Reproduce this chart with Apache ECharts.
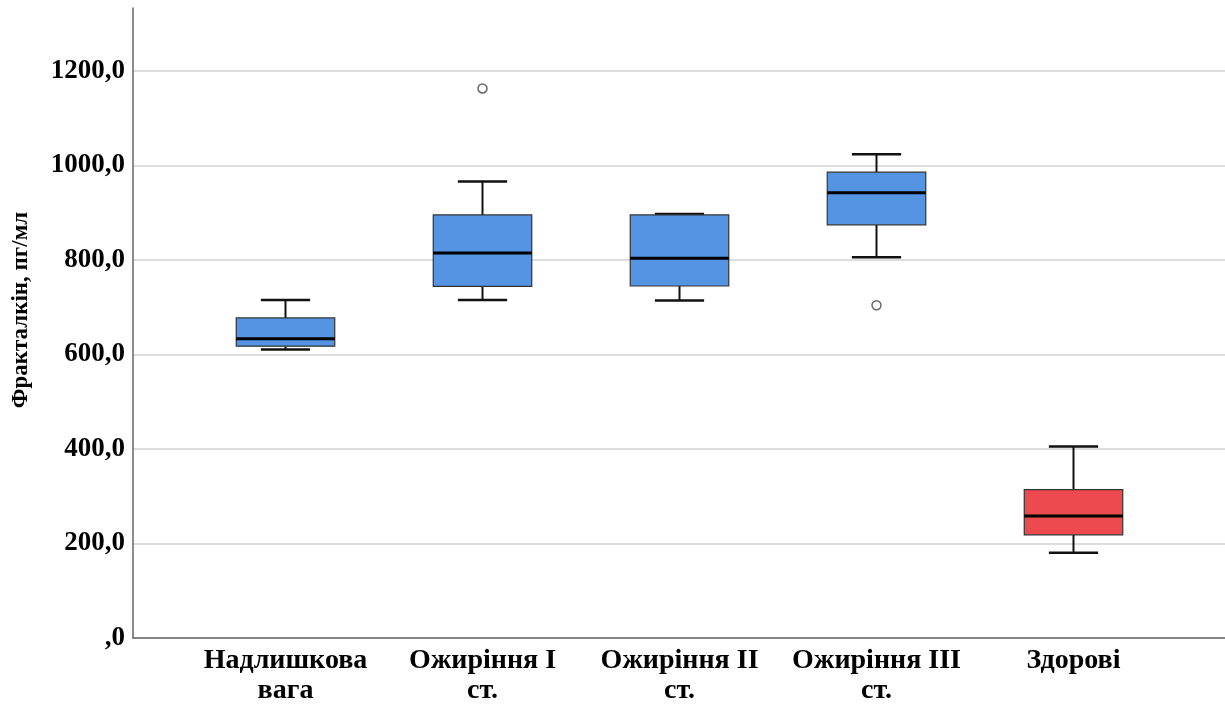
<!DOCTYPE html>
<html>
<head>
<meta charset="utf-8">
<script src="https://cdn.jsdelivr.net/npm/echarts@6/dist/echarts.min.js"></script>
<style>
  html, body { margin: 0; padding: 0; background: #fff; }
  #chart { width: 1225px; height: 706px; }
</style>
</head>
<body>
<div id="chart"></div>
<script>
// Groups and five-number summaries (pg/ml)
const categories = ['Надлишкова\nвага', 'Ожиріння I\nст.', 'Ожиріння II\nст.', 'Ожиріння III\nст.', 'Здорові'];
const lowWhisker  = [607, 712, 711, 803, 175];
const q1          = [614, 741, 742, 872, 213];
const median      = [630, 812, 801, 940, 253];
const q3          = [674, 893, 893, 984, 309];
const highWhisker = [712, 964, 895, 1022, 401];
// Outliers: [group index, value]
const outliers = [[1, 1162], [3, 701]];
const boxColors = ['#5494E3', '#5494E3', '#5494E3', '#5494E3', '#EC4A4F'];
const yTicks = [0, 200, 400, 600, 800, 1000, 1200];

const Y_MAX = 1333;
const serif = '"Liberation Serif", "DejaVu Serif", serif';

const boxData = categories.map((c, i) => [i, lowWhisker[i], q1[i], median[i], q3[i], highWhisker[i]]);

function renderBox(params, api) {
  const idx = api.value(0);
  const band = api.size([1, 0])[0];
  const half = band * 0.25;
  const capHalf = band * 0.125;
  const pLow = api.coord([idx, api.value(1)]);
  const pQ1 = api.coord([idx, api.value(2)]);
  const pMed = api.coord([idx, api.value(3)]);
  const pQ3 = api.coord([idx, api.value(4)]);
  const pHigh = api.coord([idx, api.value(5)]);
  const x = pMed[0];
  const lineStyle = { stroke: '#111', lineWidth: 2 };
  return {
    type: 'group',
    children: [
      { type: 'line', shape: { x1: x, y1: pQ3[1], x2: x, y2: pHigh[1] }, style: lineStyle },
      { type: 'line', shape: { x1: x, y1: pLow[1], x2: x, y2: pQ1[1] }, style: lineStyle },
      { type: 'line', shape: { x1: x - capHalf, y1: pHigh[1], x2: x + capHalf, y2: pHigh[1] }, style: { stroke: '#111', lineWidth: 2.5 } },
      { type: 'line', shape: { x1: x - capHalf, y1: pLow[1], x2: x + capHalf, y2: pLow[1] }, style: { stroke: '#111', lineWidth: 2.5 } },
      { type: 'rect', shape: { x: x - half, y: pQ3[1], width: half * 2, height: pQ1[1] - pQ3[1] },
        style: { fill: boxColors[idx], stroke: '#333', lineWidth: 1.2 } },
      { type: 'line', shape: { x1: x - half, y1: pMed[1], x2: x + half, y2: pMed[1] }, style: { stroke: '#000', lineWidth: 3 } }
    ]
  };
}

const chart = echarts.init(document.getElementById('chart'), null, { renderer: 'canvas' });

// last split line sits on the top edge of the plot and is left invisible
const gridColors = yTicks.map(() => '#d2d2d2').concat(['rgba(0,0,0,0)']);

chart.setOption({
  animation: false,
  backgroundColor: '#fff',
  grid: [
    { left: 133, right: 0, top: 8, bottom: 68 },
    { left: 187, right: 53, top: 8, bottom: 68 }
  ],
  xAxis: [
    {
      gridIndex: 0, type: 'value', min: 0, max: 1,
      axisLine: { show: true, lineStyle: { color: '#666', width: 1.5 } },
      axisTick: { show: false }, axisLabel: { show: false }, splitLine: { show: false }
    },
    {
      gridIndex: 1, type: 'category', data: categories,
      axisLine: { show: false }, axisTick: { show: false },
      axisLabel: {
        margin: 11, color: '#000', fontFamily: serif, fontWeight: 'bold', fontSize: 28, lineHeight: 30,
        interval: 0
      }
    }
  ],
  yAxis: [
    {
      gridIndex: 0, type: 'value', min: 0, max: Y_MAX, interval: 200,
      name: 'Фракталкін, пг/мл', nameLocation: 'middle', nameRotate: 90, nameGap: 100,
      nameTextStyle: { color: '#000', fontFamily: serif, fontWeight: 'bold', fontSize: 23, padding: [0, 0, 0, 26] },
      axisLine: { show: true, lineStyle: { color: '#666', width: 1.5 } },
      axisTick: { show: false },
      axisLabel: {
        margin: 8, color: '#000', fontFamily: serif, fontWeight: 'bold', fontSize: 27, padding: [5, 0, 0, 0],
        formatter: v => {
          if (v % 200 !== 0) return '';
          return v === 0 ? ',0' : v.toFixed(1).replace('.', ',');
        }
      },
      splitLine: { show: true, lineStyle: { color: gridColors, width: 1.5 } }
    },
    {
      gridIndex: 1, type: 'value', min: 0, max: Y_MAX,
      axisLine: { show: false }, axisTick: { show: false }, axisLabel: { show: false }, splitLine: { show: false }
    }
  ],
  series: [
    {
      type: 'custom', xAxisIndex: 1, yAxisIndex: 1,
      renderItem: renderBox,
      encode: { x: 0, y: [1, 2, 3, 4, 5] },
      data: boxData
    },
    {
      type: 'scatter', xAxisIndex: 1, yAxisIndex: 1,
      symbol: 'circle', symbolSize: 9,
      itemStyle: { color: '#fff', borderColor: '#444', borderWidth: 1.5 },
      data: outliers
    }
  ]
});
</script>
</body>
</html>
